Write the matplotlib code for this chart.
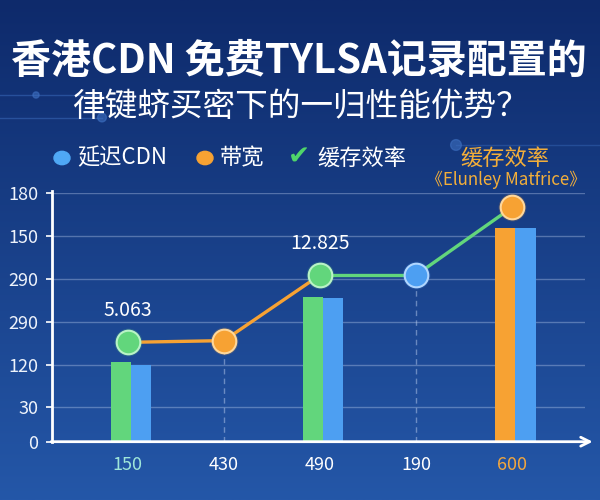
import numpy as np
import matplotlib.pyplot as plt

plt.rcParams['font.family'] = ['Noto Sans CJK SC', 'DejaVu Sans']

# 数据
categories = ['150', '430', '490', '190', '600']
ytick_labels = ['0', '30', '120', '290', '290', '150', '180']
left_bar = [1.87, np.nan, 3.39, np.nan, 5.00]     # 绿/橙柱
right_bar = [1.79, np.nan, 3.36, np.nan, 4.99]    # 蓝柱
point_vals = [2.32, 2.36, 3.89, 3.89, 5.47]
point_labels = {0: '5.063', 2: '12.825'}

title = '香港CDN 免费TYLSA记录配置的'
subtitle = '律键蛴买密下的一归性能优势？'

# 颜色
GREEN = '#62d67c'
BLUE = '#4d9ff2'
ORANGE = '#f7a233'
left_colors = [GREEN, None, GREEN, None, ORANGE]
point_colors = [GREEN, ORANGE, GREEN, BLUE, ORANGE]
point_edges = {GREEN: '#b9f3c6', ORANGE: '#ffd79a', BLUE: '#b0d6ff'}
seg_colors = [ORANGE, ORANGE, GREEN, GREEN]
xlabel_colors = ['#9fe6d9', 'white', 'white', 'white', '#f2a63e']

fig = plt.figure(figsize=(6, 5), dpi=100)

# 背景渐变
bg = fig.add_axes([0, 0, 1, 1], zorder=-10)
grad = np.linspace(0, 1, 256).reshape(-1, 1)
top = np.array([0x0e, 0x2a, 0x6b]) / 255
bot = np.array([0x24, 0x57, 0xa8]) / 255
img = top + (bot - top) * grad[:, :, None]
bg.imshow(img, extent=[0, 1, 0, 1], aspect='auto', origin='upper')
# 装饰线路
for yy in [0.81, 0.765]:
    bg.plot([0, 0.17], [yy, yy], color='#3d6fc0', lw=1, alpha=0.5)
bg.scatter([0.17, 0.06, 0.76], [0.765, 0.81, 0.71], s=[40, 20, 60], color='#3d6fc0', alpha=0.6)
bg.plot([0.76, 1.0], [0.71, 0.71], color='#3d6fc0', lw=1, alpha=0.4)
bg.set_xlim(0, 1)
bg.set_ylim(0, 1)
bg.axis('off')

# 标题
fig.text(0.498, 1 - 61 / 500, title, color='white', fontsize=28.8, fontweight='bold',
         ha='center', va='center')
fig.text(0.5, 1 - 107 / 500, subtitle, color='white', fontsize=23.5,
         ha='center', va='center')

# 图例
ly = 1 - 158 / 500
fig.patches.append(plt.Circle((62 / 600, ly), 8 / 600, transform=fig.transFigure,
                              color='#4fa8f5', figure=fig))
fig.text(77 / 600, ly, '延迟CDN', color='white', fontsize=16, ha='left', va='center')
fig.patches.append(plt.Circle((205 / 600, ly), 8 / 600, transform=fig.transFigure,
                              color='#f7a233', figure=fig))
fig.text(220 / 600, ly, '带宽', color='white', fontsize=16, ha='left', va='center')
fig.text(288 / 600, ly, '✔', color='#4fd46a', fontsize=19, ha='left', va='center',
         family='DejaVu Sans')
fig.text(317 / 600, ly, '缓存效率', color='white', fontsize=16, ha='left', va='center')
fig.text(505 / 600, ly, '缓存效率', color='#f2ae3a', fontsize=16, ha='center', va='center')
fig.text(506 / 600, 1 - 180 / 500, '《Elunley Matfrice》', color='#f2ae3a', fontsize=12.2,
         ha='center', va='center')

# 主图
ax = fig.add_axes([52 / 600, 1 - 441.7 / 500, 533 / 600, 248.4 / 500])
ax.patch.set_alpha(0)
x = np.arange(len(categories))
ax.set_xlim(-0.79, 4.76)
ytick_pos = [0, 0.8, 1.8, 2.8, 3.8, 4.8, 5.8]
ax.set_ylim(0, 5.8)

ax.hlines(ytick_pos[1:], -0.79, 4.76, color='#c8d8f5', alpha=0.35, lw=1, zorder=1)

w = 0.21
for i in range(len(categories)):
    if not np.isnan(left_bar[i]):
        ax.bar(x[i] - 0.07, left_bar[i], width=w, color=left_colors[i], zorder=2)
        ax.bar(x[i] + 0.14, right_bar[i], width=w, color=BLUE, zorder=2)

# 虚线
for i in [1, 3]:
    ax.vlines(x[i], 0, point_vals[i], color='#c8d8f5', alpha=0.45, lw=1,
              linestyles=(0, (4, 3)), zorder=1)

for i in range(len(categories) - 1):
    ax.plot(x[i:i + 2], point_vals[i:i + 2], color=seg_colors[i], lw=2.4, zorder=3,
            solid_capstyle='round')

for i in range(len(categories)):
    c = point_colors[i]
    ax.plot(x[i], point_vals[i], 'o', ms=20, color=c, alpha=0.18, mew=0, zorder=4,
            clip_on=False)
    ax.plot(x[i], point_vals[i], 'o', ms=17, color=c, mec=point_edges[c], mew=1.5,
            zorder=5, clip_on=False)

for i, txt in point_labels.items():
    ax.annotate(txt, (x[i], point_vals[i]), xytext=(0, 23), textcoords='offset points',
                ha='center', va='center', color='white', fontsize=14)

# 坐标轴
for s in ['top', 'right', 'bottom']:
    ax.spines[s].set_visible(False)
ax.spines['left'].set_color('white')
ax.spines['left'].set_linewidth(2)
ax.spines['left'].set_bounds(0, 5.85)
ax.annotate('', xy=(4.84, 0), xytext=(-0.8, 0), annotation_clip=False,
            arrowprops=dict(arrowstyle='->', color='white', lw=2, mutation_scale=16,
                            shrinkA=0, shrinkB=0))

ax.set_yticks(ytick_pos)
ax.set_yticklabels(ytick_labels)
ax.tick_params(axis='y', colors='white', labelcolor='#eef3fb', labelsize=13,
               length=4, width=1.2, pad=6)
ax.set_xticks(x)
ax.set_xticklabels(categories)
ax.tick_params(axis='x', length=0, labelsize=13, pad=10)
for lab, c in zip(ax.get_xticklabels(), xlabel_colors):
    lab.set_color(c)

fig.savefig('out.png', dpi=100)
